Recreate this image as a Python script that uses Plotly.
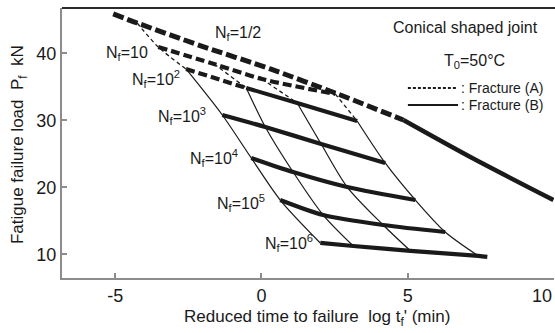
import plotly.graph_objects as go

# ---- log t_f' (min) against fatigue failure load P_f (kN) ----
# static curve N_f = 1/2 : fracture (A) part, then fracture (B) part
half_x_a = [-5.07, -4.25, -2.10, 0.30, 2.52, 4.85]
half_p_a = [45.87, 44.52, 41.16, 37.66, 34.07, 30.04]
half_x_b = [4.85, 7.14, 9.98]
half_p_b = [30.04, 24.52, 18.10]

# constant-N_f curves, sampled where they meet the four thin curves
nf10_x = [-3.53, -1.62, 0.02, 2.52]
nf10_p = [40.94, 38.40, 36.16, 33.93]
nf1e2_x = [-2.58, -0.52, 1.22, 3.27]
nf1e2_p = [37.66, 34.82, 32.58, 29.90]
nf1e3_x = [-1.34, 0.13, 2.04, 4.23]
nf1e3_p = [30.79, 29.00, 26.46, 23.63]
nf1e4_x = [-0.35, 1.08, 2.93, 5.26]
nf1e4_p = [24.37, 22.28, 20.04, 18.10]
nf1e5_x = [0.64, 2.11, 4.16, 6.28]
nf1e5_p = [18.10, 15.86, 14.37, 13.33]
nf1e6_x = [2.01, 3.14, 5.09, 7.41, 7.72]
nf1e6_p = [11.69, 11.24, 10.52, 9.77, 9.62]

# where the first thin curve leaves the static curve
thin1_top_x = -4.25
thin1_top_p = 44.52

curve_labels = ["N<sub>f</sub>=1/2", "N<sub>f</sub>=10", "N<sub>f</sub>=10<sup>2</sup>",
                "N<sub>f</sub>=10<sup>3</sup>", "N<sub>f</sub>=10<sup>4</sup>",
                "N<sub>f</sub>=10<sup>5</sup>", "N<sub>f</sub>=10<sup>6</sup>"]

x_ticks = [-5, 0, 5, 10]
y_ticks = [10, 20, 30, 40]

FONT = "Liberation Sans, Arial, Helvetica, sans-serif"
INK = "#1a1a1a"
AXIS = "#8c8c8c"

fig = go.Figure()


def add(x, y, width, dash="solid", shape="spline"):
    fig.add_trace(go.Scatter(
        x=x, y=y, mode="lines", showlegend=False, hoverinfo="skip",
        line=dict(color=INK, width=width, dash=dash, shape=shape, smoothing=0.8),
    ))


# thin curves joining the crossing points of each constant-N_f curve
curves = [(nf10_x, nf10_p), (nf1e2_x, nf1e2_p), (nf1e3_x, nf1e3_p),
          (nf1e4_x, nf1e4_p), (nf1e5_x, nf1e5_p), (nf1e6_x, nf1e6_p)]
for j in range(4):
    ax = [nf10_x[j], nf1e2_x[j]]
    ap = [nf10_p[j], nf1e2_p[j]]
    if j == 0:
        ax = [thin1_top_x] + ax
        ap = [thin1_top_p] + ap
    add(ax, ap, 1.3, dash="4px,3px")
    bx = [c[0][j] for c in curves[1:]]
    bp = [c[1][j] for c in curves[1:]]
    add(bx, bp, 1.2)

# static curve
add(half_x_a, half_p_a, 5, dash="11px,4px")
add(half_x_b, half_p_b, 4.5)

# constant-N_f curves
add(nf10_x, nf10_p, 4.2, dash="9px,4px")
add(nf1e2_x[:2], nf1e2_p[:2], 4.2, dash="9px,4px")
add(nf1e2_x[1:], nf1e2_p[1:], 4)
for cx, cp in curves[2:]:
    add(cx, cp, 4.2)

# curve labels (right edge, middle of the N glyph)
label_pos = [(0.06, 42.9), (-3.81, 39.9), (-2.71, 36.2), (-1.82, 30.6),
             (-0.73, 24.4), (0.19, 17.7), (1.84, 11.7)]
for text, (lx, lp) in zip(curve_labels, label_pos):
    fig.add_annotation(x=lx, y=lp, text=text, showarrow=False, xanchor="right",
                       yanchor="middle", font=dict(family=FONT, size=16, color=INK))

# key and heading
fig.add_annotation(x=0.9715, y=0.926, xref="paper", yref="paper", text="Conical shaped joint",
                   showarrow=False, xanchor="right", yanchor="middle",
                   font=dict(family=FONT, size=16, color=INK))
fig.add_annotation(x=0.839, y=0.80, xref="paper", yref="paper", text="T<sub>0</sub>=50\u00b0C",
                   showarrow=False, xanchor="center", yanchor="middle",
                   font=dict(family=FONT, size=16, color=INK))
fig.add_shape(type="line", xref="paper", yref="paper", x0=0.703, x1=0.803, y0=0.7037, y1=0.7037,
              line=dict(color=INK, width=2, dash="3px,2px"))
fig.add_shape(type="line", xref="paper", yref="paper", x0=0.703, x1=0.805, y0=0.6407, y1=0.6407,
              line=dict(color=INK, width=2))
for yy, txt in [(0.7037, ": Fracture (A)"), (0.6407, ": Fracture (B)")]:
    fig.add_annotation(x=0.806, y=yy, xref="paper", yref="paper", text=txt, showarrow=False,
                       xanchor="left", yanchor="middle",
                       font=dict(family=FONT, size=14, color=INK))

# axis titles
fig.add_annotation(x=0.518, y=-0.148, xref="paper", yref="paper",
                   text="Reduced time to failure\u00a0\u00a0log t<sub>f</sub>' (min)",
                   showarrow=False, xanchor="center", yanchor="middle",
                   font=dict(family=FONT, size=17, color=INK))
fig.add_annotation(x=-0.087, y=0.493, xref="paper", yref="paper", textangle=-90,
                   text="Fatigue failure load\u00a0\u00a0P<sub>f</sub>\u00a0\u00a0kN",
                   showarrow=False, xanchor="center", yanchor="middle",
                   font=dict(family=FONT, size=17, color=INK))
# last x tick label sits against the right edge
fig.add_annotation(x=1.0, y=-0.065, xref="paper", yref="paper", text=str(x_ticks[-1]),
                   showarrow=False, xanchor="right", yanchor="middle",
                   font=dict(family=FONT, size=18, color=INK))
# frame top edge
fig.add_shape(type="line", xref="paper", yref="paper", x0=0, x1=1.01, y0=1, y1=1,
              line=dict(color="#2a2a2a", width=2))

fig.update_xaxes(range=[-6.82, 10.0], tickvals=x_ticks,
                 ticktext=[str(v) for v in x_ticks[:-1]] + [""],
                 ticks="inside", ticklen=5, tickwidth=2, tickcolor=AXIS,
                 showline=True, linecolor=AXIS, linewidth=2, showgrid=False, zeroline=False,
                 tickfont=dict(family=FONT, size=18, color=INK))
fig.update_yaxes(range=[6.46, 46.76], tickvals=y_ticks, ticktext=[str(v) for v in y_ticks],
                 ticks="inside", ticklen=5, tickwidth=2, tickcolor=AXIS,
                 showline=True, linecolor=AXIS, linewidth=2, showgrid=False, zeroline=False,
                 tickfont=dict(family=FONT, size=18, color=INK))
fig.update_layout(width=555, height=333, margin=dict(l=62, r=1, t=8, b=55),
                  plot_bgcolor="white", paper_bgcolor="white")

fig.write_html("out.html")
